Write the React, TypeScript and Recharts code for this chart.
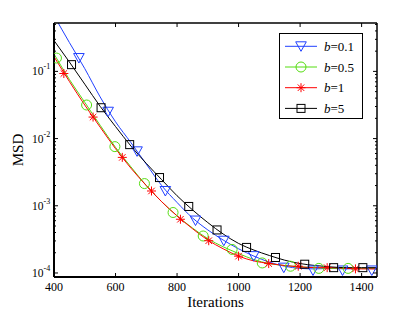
import { ComposedChart, Line, Scatter, XAxis, YAxis } from 'recharts';

const FONT = '"Liberation Serif", "Times New Roman", serif';

// curve samples (iterations) and MSD per step size b
const iterations = [400, 450, 500, 550, 600, 650, 700, 750, 800, 850, 900, 950, 1000, 1050, 1100, 1150, 1200, 1250, 1300, 1350, 1400, 1450];
const msdB01 = [0.676, 0.269, 0.11, 0.0417, 0.0178, 0.00871, 0.00417, 0.002, 0.00112, 6.61e-4, 4.37e-4, 3.09e-4, 2.29e-4, 1.78e-4, 1.45e-4, 1.26e-4, 1.17e-4, 1.15e-4, 1.17e-4, 1.15e-4, 1.17e-4, 1.15e-4];
const msdB05 = [0.182, 0.0759, 0.0347, 0.0158, 0.00741, 0.0038, 0.002, 0.00115, 7.08e-4, 4.68e-4, 3.24e-4, 2.45e-4, 1.95e-4, 1.58e-4, 1.38e-4, 1.29e-4, 1.23e-4, 1.2e-4, 1.17e-4, 1.17e-4, 1.17e-4, 1.17e-4];
const msdB1 = [0.166, 0.0708, 0.0316, 0.0148, 0.00708, 0.00363, 0.002, 0.00115, 7.08e-4, 4.57e-4, 3.09e-4, 2.29e-4, 1.78e-4, 1.51e-4, 1.38e-4, 1.29e-4, 1.23e-4, 1.2e-4, 1.2e-4, 1.17e-4, 1.15e-4, 1.15e-4];
const msdB5 = [0.288, 0.138, 0.0646, 0.0302, 0.0151, 0.00776, 0.00427, 0.00245, 0.00141, 8.71e-4, 5.62e-4, 3.8e-4, 2.75e-4, 2.19e-4, 1.82e-4, 1.55e-4, 1.38e-4, 1.29e-4, 1.23e-4, 1.2e-4, 1.2e-4, 1.2e-4];

// marker positions
const markIterB01 = [481, 576, 670, 762, 860, 952, 1049, 1147, 1242, 1338, 1433];
const markMsdB01 = [0.158, 0.0251, 0.00646, 0.00166, 6.03e-4, 3.02e-4, 1.78e-4, 1.2e-4, 1.09e-4, 1.09e-4, 1.09e-4];
const markIterB05 = [408, 506, 598, 694, 787, 885, 979, 1077, 1169, 1261, 1356];
const markMsdB05 = [0.158, 0.0316, 0.00759, 0.00214, 7.94e-4, 3.55e-4, 2.24e-4, 1.41e-4, 1.26e-4, 1.17e-4, 1.17e-4];
const markIterB1 = [432, 527, 622, 717, 811, 903, 1000, 1098, 1194, 1288, 1380];
const markMsdB1 = [0.093, 0.0209, 0.00525, 0.00166, 6.3e-4, 3.02e-4, 1.78e-4, 1.38e-4, 1.26e-4, 1.2e-4, 1.15e-4];
const markIterB5 = [457, 553, 646, 743, 838, 930, 1026, 1120, 1215, 1309, 1404];
const markMsdB5 = [0.126, 0.0288, 0.00813, 0.00263, 9.77e-4, 4.37e-4, 2.4e-4, 1.7e-4, 1.35e-4, 1.2e-4, 1.2e-4];

const xTicks = [400, 600, 800, 1000, 1200, 1400];
const yMajor = [1e-4, 1e-3, 1e-2, 1e-1];
const yExponents = ['-4', '-3', '-2', '-1'];
const yMinor = [
  2e-4, 3e-4, 4e-4, 5e-4, 6e-4, 7e-4, 8e-4, 9e-4,
  2e-3, 3e-3, 4e-3, 5e-3, 6e-3, 7e-3, 8e-3, 9e-3,
  2e-2, 3e-2, 4e-2, 5e-2, 6e-2, 7e-2, 8e-2, 9e-2,
  2e-1, 3e-1, 4e-1, 5e-1,
];
const legendLabels = ['0.1', '0.5', '1', '5'];

const BLUE = '#2040ff';
const GREEN = '#55dd11';
const RED = '#ff0000';
const BLACK = '#000000';

const rows = iterations.map((iter, i) => ({
  iter,
  b01: msdB01[i],
  b05: msdB05[i],
  b1: msdB1[i],
  b5: msdB5[i],
}));
const toPoints = (xs: number[], ys: number[]) => xs.map((iter, i) => ({ iter, msd: ys[i] }));

function Tri({ cx, cy, color }: { cx: number; cy: number; color: string }) {
  return (
    <polygon
      points={`${cx - 5.3},${cy - 4.5} ${cx + 5.3},${cy - 4.5} ${cx},${cy + 5}`}
      fill="none"
      stroke={color}
      strokeWidth={1}
    />
  );
}
function Circ({ cx, cy, color }: { cx: number; cy: number; color: string }) {
  return <circle cx={cx} cy={cy} r={5} fill="none" stroke={color} strokeWidth={1} />;
}
function Star({ cx, cy, color }: { cx: number; cy: number; color: string }) {
  const r = 4.5;
  const d = r * 0.72;
  return (
    <g stroke={color} strokeWidth={1}>
      <line x1={cx - r} x2={cx + r} y1={cy} y2={cy} />
      <line x1={cx} x2={cx} y1={cy - r} y2={cy + r} />
      <line x1={cx - d} x2={cx + d} y1={cy - d} y2={cy + d} />
      <line x1={cx - d} x2={cx + d} y1={cy + d} y2={cy - d} />
    </g>
  );
}
function Sq({ cx, cy, color }: { cx: number; cy: number; color: string }) {
  return <rect x={cx - 4} y={cy - 4} width={8} height={8} fill="none" stroke={color} strokeWidth={1} />;
}

const series = [
  { key: 'b01', color: BLUE, Marker: Tri, xs: markIterB01, ys: markMsdB01 },
  { key: 'b05', color: GREEN, Marker: Circ, xs: markIterB05, ys: markMsdB05 },
  { key: 'b1', color: RED, Marker: Star, xs: markIterB1, ys: markMsdB1 },
  { key: 'b5', color: BLACK, Marker: Sq, xs: markIterB5, ys: markMsdB5 },
];

function LeftTick(props: any) {
  const { x, y, payload } = props;
  const idx = yMajor.indexOf(payload.value);
  const major = idx >= 0;
  return (
    <g>
      <line x1={x} x2={x + (major ? 4 : 2)} y1={y} y2={y} stroke="#000" strokeWidth={1} />
      {major && (
        <>
          <text x={x - 10.5} y={y + 4} textAnchor="end" fontSize={11.5} fontFamily={FONT} fill="#000">
            10
          </text>
          <text x={x - 10.5} y={y - 2} fontSize={8} fontFamily={FONT} fill="#000">
            {yExponents[idx]}
          </text>
        </>
      )}
    </g>
  );
}

function RightTick(props: any) {
  const { x, y, payload } = props;
  const major = yMajor.includes(payload.value);
  return <line x1={x} x2={x - (major ? 4 : 2)} y1={y} y2={y} stroke="#000" strokeWidth={1} />;
}

function BottomTick(props: any) {
  const { x, y, payload } = props;
  return (
    <g>
      <line x1={x} x2={x} y1={y} y2={y - 4} stroke="#000" strokeWidth={1} />
      <text x={x} y={y + 14} textAnchor="middle" fontSize={12} fontFamily={FONT} fill="#000">
        {payload.value}
      </text>
    </g>
  );
}

function TopTick(props: any) {
  const { x, y } = props;
  return <line x1={x} x2={x} y1={y} y2={y + 4} stroke="#000" strokeWidth={1} />;
}

export default function App() {
  return (
    <div style={{ position: 'absolute', left: 0, top: 0, width: 415, height: 312, background: '#fff' }}>
      <ComposedChart width={415} height={312} data={rows} margin={{ top: 21, right: 36, bottom: 0, left: 0 }}>
        <XAxis
          dataKey="iter"
          type="number"
          domain={[400, 1450]}
          ticks={xTicks}
          allowDataOverflow
          height={35}
          tickSize={0}
          tickMargin={0}
          tickLine={false}
          tick={<BottomTick />}
          interval={0}
          axisLine={{ stroke: '#000', strokeWidth: 2 }}
          label={{ value: 'Iterations', position: 'insideBottom', offset: 5, fill: '#000', fontSize: 15, fontFamily: FONT }}
        />
        <XAxis
          xAxisId="top"
          orientation="top"
          dataKey="iter"
          type="number"
          domain={[400, 1450]}
          ticks={xTicks}
          allowDataOverflow
          height={2}
          tickSize={0}
          tickMargin={0}
          tickLine={false}
          tick={<TopTick />}
          interval={0}
          axisLine={{ stroke: '#000', strokeWidth: 1.5 }}
        />
        <YAxis
          scale="log"
          type="number"
          domain={[8.71e-5, 0.525]}
          ticks={[...yMajor, ...yMinor]}
          allowDataOverflow
          width={54}
          tickSize={0}
          tickMargin={0}
          tickLine={false}
          tick={<LeftTick />}
          interval={0}
          axisLine={{ stroke: '#000', strokeWidth: 2 }}
          label={{
            value: 'MSD',
            angle: -90,
            position: 'insideLeft',
            offset: 18,
            fill: '#000',
            fontSize: 15,
            fontFamily: FONT,
            style: { textAnchor: 'middle' },
          }}
        />
        <YAxis
          yAxisId="right"
          orientation="right"
          scale="log"
          type="number"
          domain={[8.71e-5, 0.525]}
          ticks={[...yMajor, ...yMinor]}
          allowDataOverflow
          width={2}
          tickSize={0}
          tickMargin={0}
          tickLine={false}
          tick={<RightTick />}
          interval={0}
          axisLine={{ stroke: '#000', strokeWidth: 1.5 }}
        />
        {series.map((s) => (
          <Line
            key={`line-${s.key}`}
            type="monotone"
            dataKey={s.key}
            stroke={s.color}
            strokeWidth={1}
            dot={false}
            activeDot={false}
            isAnimationActive={false}
          />
        ))}
        {series.map((s) => (
          <Scatter
            key={`mark-${s.key}`}
            data={toPoints(s.xs, s.ys)}
            dataKey="msd"
            isAnimationActive={false}
            shape={(p: any) => <s.Marker cx={p.cx} cy={p.cy} color={s.color} />}
          />
        ))}
      </ComposedChart>

      {/* Legend */}
      <div
        style={{
          position: 'absolute',
          left: 279,
          top: 33,
          width: 84,
          height: 86,
          boxSizing: 'border-box',
          border: '1.5px solid #000',
          background: '#fff',
        }}
      >
        <svg width={84} height={86} style={{ position: 'absolute', left: -1.5, top: -1.5 }}>
          {series.map((s, i) => {
            const cy = 13.3 + i * 20.7;
            return (
              <g key={s.key}>
                <line x1={6} x2={38} y1={cy} y2={cy} stroke={s.color} strokeWidth={1} />
                <s.Marker cx={22} cy={cy} color={s.color} />
                <text x={45} y={cy + 4.5} fontSize={13} fontFamily={FONT} fill="#000">
                  <tspan fontStyle="italic">b</tspan>={legendLabels[i]}
                </text>
              </g>
            );
          })}
        </svg>
      </div>
    </div>
  );
}
